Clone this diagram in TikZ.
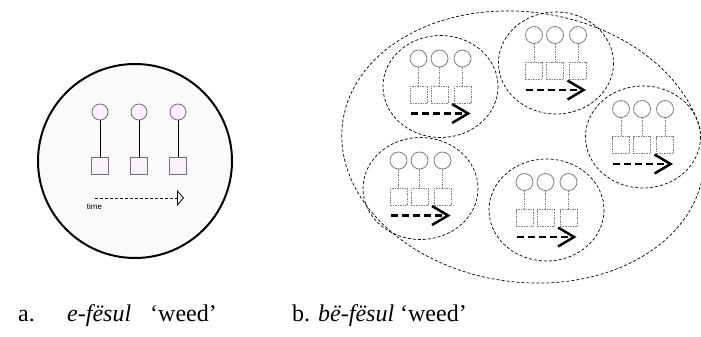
\documentclass[tikz,border=0pt]{standalone}
\usepackage{fontspec}
\setmainfont{Liberation Serif}
\newfontfamily\timefont{Liberation Sans}
\usetikzlibrary{arrows.meta}
\definecolor{pale}{HTML}{FAFAFA}
\definecolor{pinkfill}{HTML}{FDF0FD}
\definecolor{rim}{HTML}{707070}
\begin{document}
\begin{tikzpicture}[x=1pt, y=-1pt,
    mcirc/.style={circle, draw=gray, line width=.8pt, minimum size=17pt, inner sep=0pt},
    mbox/.style={rectangle, draw=gray, dash pattern=on 1.5pt off 1pt, line width=.8pt, minimum size=17pt, inner sep=0pt},
    mstem/.style={draw=gray, dash pattern=on 1.5pt off 1pt, line width=.8pt},
    grpline/.style={dash pattern=on 3pt off 2pt, line width=.7pt},
    tarrow/.style={line width=2.5pt, dash pattern=on 7pt off 4pt, -{Straight Barb[length=16pt, width=19pt]}},
    cluster/.pic={
        \draw[grpline] (0,0) ellipse [x radius=57.5, y radius=51];
        \foreach \i/\dx in {1/-22, 2/-1, 3/22}{
            \node[mcirc] (-c\i) at (\dx,-28) {};
            \node[mbox] (-b\i) at (\dx,8) {};
            \draw[mstem] (-c\i) -- (-b\i);
        }
        \coordinate (-t0) at (-30,27);
        \coordinate (-t1) at (30,27);
        \draw[tarrow] (-t0) -- (-t1);
    }]
\useasboundingbox (0,0) rectangle (701,337);

% a. single plant
\node[circle, draw, line width=2pt, fill=pale, minimum size=194pt, inner sep=0pt] (A) at (135,161) {};
\foreach \i/\x in {1/100, 2/139, 3/178}{
    \node[circle, draw=rim, fill=pinkfill, line width=.8pt, minimum size=16pt, inner sep=0pt] (p\i) at (\x,112) {};
    \node[rectangle, draw=rim, fill=pinkfill, line width=.8pt, minimum size=17pt, inner sep=0pt] (q\i) at (\x,166) {};
    \draw[line width=.8pt] (p\i) -- (q\i);
}
\coordinate (t0) at (95,198);
\coordinate (t1) at (184,198);
\draw[dash pattern=on 3pt off 2pt, line width=.6pt, -{Triangle[open, length=7pt, width=16pt, line width=.8pt]}] (t0) -- (t1);
\node[font=\timefont\fontsize{8}{9}\selectfont, inner sep=0pt] (time) at (94.5,207) {time};

% b. collective
\draw[grpline, rotate around={-8:(523,147)}] (523,147) ellipse [x radius=182, y radius=135];
\pic (k1) at (440.5,86.5) {cluster};
\pic (k2) at (556,63) {cluster};
\pic (k3) at (643,137) {cluster};
\pic (k4) at (420.5,188.5) {cluster};
\pic (k5) at (546.5,210) {cluster};

% captions
\begin{scope}[every node/.style={anchor=base west, inner sep=0pt, font=\fontsize{24}{29}\selectfont}]
\node (la) at (18,321) {a.};
\node (lae) at (67,321) {\textit{e-fësul}};
\node (law) at (150,321) {‘weed’};
\node (lb) at (292,321) {b. \textit{bë-fësul} ‘weed’};
\end{scope}
\end{tikzpicture}
\end{document}
